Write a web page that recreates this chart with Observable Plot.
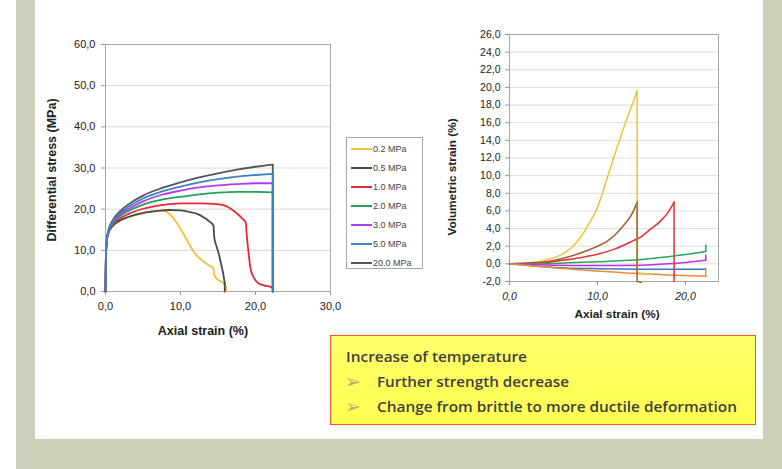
<!DOCTYPE html>
<html><head><meta charset="utf-8">
<script src="https://cdn.jsdelivr.net/npm/d3@7"></script>
<script src="https://cdn.jsdelivr.net/npm/@observablehq/plot@0.6"></script>
<style>
html,body{margin:0;padding:0;}
body{width:782px;height:469px;overflow:hidden;background:#fff;position:relative;font-family:"Liberation Sans",Arial,sans-serif;}
.abs{position:absolute;}
#sage{left:16px;top:0;width:766px;height:469px;background:#ccd0b9;}
#panel{left:35px;top:0;width:728px;height:439px;background:#fff;}
.ttl{position:absolute;font-weight:bold;color:#222;white-space:nowrap;transform:translate(-50%,-50%);}
#legend{left:346px;top:137px;width:75px;height:130px;border:1px solid #a8a8a8;background:#fff;}
.li{position:absolute;left:0;height:10px;width:75px;}
.sw{position:absolute;left:4px;top:4px;width:21px;height:2px;}
.lt{position:absolute;left:26px;top:0;font-size:9px;line-height:10px;color:#444;}
</style></head>
<body>
<div id="sage" class="abs"></div>
<div id="panel" class="abs"></div>
<div id="left" class="abs" style="left:35px;top:20px"></div>
<div id="right" class="abs" style="left:450px;top:20px"></div>
<div class="ttl" style="left:203px;top:331px;font-size:12.5px">Axial strain (%)</div>
<div class="ttl" style="left:52px;top:170px;font-size:12.5px;transform:translate(-50%,-50%) rotate(-90deg)">Differential stress (MPa)</div>
<div class="ttl" style="left:617px;top:314px;font-size:11.8px">Axial strain (%)</div>
<div class="ttl" style="left:452px;top:177px;font-size:11.8px;transform:translate(-50%,-50%) rotate(-90deg)">Volumetric strain (%)</div>
<div id="legend" class="abs"></div>
<svg class="abs" style="left:330px;top:335px" width="427" height="91">
  <defs>
    <linearGradient id="yg" x1="0" y1="0" x2="0" y2="1">
      <stop offset="0" stop-color="#ffff6a"/>
      <stop offset="1" stop-color="#ffff52"/>
    </linearGradient>
  </defs>
  <rect x="0.5" y="0.5" width="425" height="89" fill="url(#yg)" stroke="#f05a2a"/>
  <g font-family="'Open Sans', Roboto, sans-serif" font-weight="600" font-size="15" fill="#404040">
    <text x="16" y="27" textLength="181" lengthAdjust="spacingAndGlyphs">Increase of temperature</text>
    <text x="47" y="52" textLength="192" lengthAdjust="spacingAndGlyphs">Further strength decrease</text>
    <text x="47" y="77" textLength="360" lengthAdjust="spacingAndGlyphs">Change from brittle to more ductile deformation</text>
  </g>
  <g font-family="'DejaVu Sans'" font-size="19" fill="#c8a56c">
    <text x="15" y="53">➢</text>
    <text x="15" y="78">➢</text>
  </g>
</svg>
<script>
// ---- series ----
const pressures = ["0.2 MPa","0.5 MPa","1.0 MPa","2.0 MPa","3.0 MPa","5.0 MPa","20.0 MPa"];
const leftColors  = ["#f0c23a","#4a4a4a","#e8283a","#1fa25a","#b43cf0","#3b84c8","#555555"];
const rightColors = ["#f0c23a","#a0622d","#e0303a","#22aa55","#c030e0","#3a78c0","#ee8a30"];

// ---- left chart: axial strain (%) vs differential stress (MPa) ----
const stress_02 = [[0,0],[0.05,8],[0.15,12],[0.4,14.3],[1,16],[2,17.3],[3,18],[5,19],[7,19.6],[7.8,19.6],[8.5,18.9],[9.1,17.7],[10,15.2],[10.9,12.4],[11.5,10.4],[12.2,8.7],[13,7.4],[13.8,6.3],[14.4,5.7],[14.5,4.2],[14.7,3.4],[15.2,2.6],[15.8,1.9],[16.1,1.0],[16.1,0]];
const stress_05 = [[0,0],[0.05,8],[0.15,12],[0.4,14.3],[1,16],[2,17.3],[3,18.1],[5,19.1],[7,19.6],[8.5,19.8],[10,19.7],[11.3,19.3],[12.3,18.8],[13.1,18.0],[13.8,17.1],[14.4,16.0],[14.5,13.2],[14.8,11],[15.1,9.2],[15.4,6.8],[15.7,4.3],[15.9,2.0],[15.9,0]];
const stress_1  = [[0,0],[0.05,8],[0.15,12],[0.4,14.5],[1,16.3],[2,17.8],[3,18.8],[5,20.1],[7.5,21.0],[10,21.4],[12.5,21.4],[14.9,21.2],[16,20.8],[16.7,20.1],[17.5,19.0],[18.3,17.6],[18.7,16.8],[18.8,14.5],[18.9,12.4],[19.1,9],[19.3,5.9],[19.7,3.6],[20.2,2.3],[21.1,1.5],[22.2,1.0],[22.4,0.6]];
const stress_2  = [[0,0],[0.05,8],[0.15,12],[0.4,14.6],[1,16.6],[2,18.4],[3,19.5],[5,21.1],[7.5,22.3],[10,23.0],[12.5,23.6],[15,24.0],[17.5,24.2],[20,24.2],[22.3,24.1],[22.3,0]];
const stress_3  = [[0,0],[0.05,8],[0.15,12],[0.4,14.7],[1,16.9],[2,18.8],[3,20.0],[5,21.9],[7.5,23.5],[10,24.5],[12.5,25.3],[15,25.8],[17.5,26.1],[20,26.3],[22.3,26.3],[22.3,0]];
const stress_5  = [[0,0],[0.05,8],[0.15,12],[0.4,14.8],[1,17.1],[2,19.1],[3,20.5],[5,22.6],[7.5,24.3],[10,25.5],[12.5,26.5],[15,27.3],[17.5,27.9],[20,28.3],[22.3,28.6],[22.3,0]];
const stress_20 = [[0,0],[0.05,8],[0.15,12],[0.4,15],[1,17.4],[2,19.6],[3,21.1],[5,23.3],[7.5,25.1],[10,26.5],[12.5,27.7],[15,28.7],[17.5,29.6],[20,30.3],[22.3,30.8],[22.3,0]];
const leftCurves = [stress_02, stress_05, stress_1, stress_2, stress_3, stress_5, stress_20];
const leftXTicks = [0,10,20,30];
const leftXLabels = ["0,0","10,0","20,0","30,0"];
const leftYTicks = [0,10,20,30,40,50,60];
const leftYLabels = ["0,0","10,0","20,0","30,0","40,0","50,0","60,0"];

// ---- right chart: axial strain (%) vs volumetric strain (%) ----
const vol_02 = [[0,0],[2,0.1],[4,0.4],[6,1.1],[7,1.8],[8,2.9],[9,4.5],[10,6.4],[10.5,7.8],[11,9.4],[11.5,11],[12,12.5],[12.5,14.0],[13,15.5],[13.5,16.9],[14,18.2],[14.5,19.6],[14.5,-1.0],[15.2,-1.1],[16,-1.2]];
const vol_05 = [[0,0],[4,0.2],[6,0.6],[8,1.2],[10,2.0],[11,2.5],[12,3.3],[13,4.4],[14,5.8],[14.5,7.0],[14.5,-2.0],[15,-2.1]];
const vol_1  = [[0,0],[4,0.15],[6,0.4],[8,0.7],[10,1.1],[12,1.7],[14,2.6],[15,3.1],[16,3.9],[17,4.7],[18,5.8],[18.7,7.0],[18.7,-2]];
const vol_2  = [[0,0],[5,0.05],[10,0.25],[15,0.5],[18,0.8],[20,1.05],[22.3,1.4],[22.3,2.1]];
const vol_3  = [[0,0],[5,-0.15],[10,-0.2],[15,-0.15],[18,0],[20,0.15],[22.3,0.4],[22.3,1.0]];
const vol_5  = [[0,0],[5,-0.4],[10,-0.55],[15,-0.6],[22.3,-0.6]];
const vol_20 = [[0,0],[5,-0.45],[10,-0.8],[14.5,-1.1],[18,-1.25],[22.3,-1.4],[22.3,-0.5]];
const rightCurves = [vol_02, vol_05, vol_1, vol_2, vol_3, vol_5, vol_20];
const rightXTicks = [0,10,20];
const rightXLabels = ["0,0","10,0","20,0"];
const rightYTicks = [-2,0,2,4,6,8,10,12,14,16,18,20,22,24,26];
const rightYLabels = ["-2,0","0,0","2,0","4,0","6,0","8,0","10,0","12,0","14,0","16,0","18,0","20,0","22,0","24,0","26,0"];

// split each curve: the smooth part (until the first vertical segment) and the rest (drawn straight)
function split(curves, order) {
  const smooth = [], rest = [];
  order.forEach(i => {
    const p = pressures[i], c = curves[i];
    let k = c.findIndex((d,j) => j > 0 && d[0] === c[j-1][0]);
    if (k < 0) k = c.length;
    c.slice(0, k).forEach(([x,y]) => smooth.push({p, x, y}));
    if (k < c.length) c.slice(k - 1).forEach(([x,y]) => rest.push({p, x, y}));
  });
  return [smooth, rest];
}
// drawing order (blue drawn last on the left, as in the reference)
const [leftSmooth, leftRest] = split(leftCurves, [0,1,2,3,4,6,5]);
const [rightSmooth, rightRest] = split(rightCurves, [0,1,2,3,4,5,6]);

const fmt = (ticks, labels) => d => labels[ticks.indexOf(d)];
const font = "'Liberation Sans', Arial, sans-serif";

const left = Plot.plot({
  width: 320, height: 300,
  marginLeft: 70, marginRight: 25, marginTop: 24, marginBottom: 29,
  style: {fontFamily: font, fontSize: "11px", color: "#222", background: "transparent", overflow: "visible"},
  x: {domain: [0,30]},
  y: {domain: [0,60]},
  color: {domain: pressures, range: leftColors},
  marks: [
    Plot.gridY(leftYTicks, {stroke: "#d9d9d9", strokeOpacity: 1}),
    Plot.frame({stroke: "#a6a6a6"}),
    Plot.axisY(leftYTicks, {tickSize: 4, tickPadding: 6, tickFormat: fmt(leftYTicks, leftYLabels), label: null, stroke: "#999", fill: "#222"}),
    Plot.axisX(leftXTicks, {tickSize: 4, tickPadding: 7, tickFormat: fmt(leftXTicks, leftXLabels), label: null, stroke: "#999", fill: "#222"}),
    Plot.line(leftSmooth, {x: "x", y: "y", z: "p", stroke: "p", strokeWidth: 1.8, curve: "monotone-x"}),
    Plot.line(leftRest, {x: "x", y: "y", z: "p", stroke: "p", strokeWidth: 1.8})
  ]
});
document.getElementById("left").append(left);

const right = Plot.plot({
  width: 280, height: 285,
  marginLeft: 59, marginRight: 12, marginTop: 14, marginBottom: 24,
  style: {fontFamily: font, fontSize: "10.5px", color: "#222", background: "transparent", overflow: "visible"},
  x: {domain: [0,23.75]},
  y: {domain: [-2,26]},
  color: {domain: pressures, range: rightColors},
  marks: [
    Plot.gridY(rightYTicks, {stroke: "#dedede", strokeOpacity: 1}),
    Plot.frame({stroke: "#a6a6a6"}),
    Plot.axisY(rightYTicks, {tickSize: 4, tickPadding: 5, tickFormat: fmt(rightYTicks, rightYLabels), label: null, stroke: "#999", fill: "#222"}),
    Plot.axisX(rightXTicks, {tickSize: 4, tickPadding: 7, tickFormat: fmt(rightXTicks, rightXLabels), label: null, stroke: "#999", fill: "#222", fontStyle: "italic"}),
    Plot.line(rightSmooth, {x: "x", y: "y", z: "p", stroke: "p", strokeWidth: 1.5, curve: "monotone-x"}),
    Plot.line(rightRest, {x: "x", y: "y", z: "p", stroke: "p", strokeWidth: 1.5})
  ]
});
document.getElementById("right").append(right);

// legend
const lg = document.getElementById("legend");
pressures.forEach((p,i) => {
  const row = document.createElement("div");
  row.className = "li";
  row.style.top = (6 + i*19) + "px";
  row.innerHTML = `<div class="sw" style="background:${leftColors[i]}"></div><div class="lt">${p}</div>`;
  lg.append(row);
});
</script>
</body></html>
